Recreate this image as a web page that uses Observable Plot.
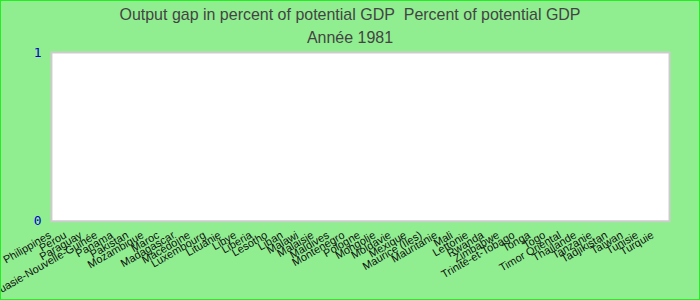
<!DOCTYPE html>
<html>
<head>
<meta charset="utf-8">
<script src="https://cdn.jsdelivr.net/npm/d3@7"></script>
<script src="https://cdn.jsdelivr.net/npm/@observablehq/plot@0.6"></script>
<style>
  html, body { margin: 0; padding: 0; }
  #wrap { position: relative; width: 700px; height: 300px; background: #90EE90; box-sizing: border-box; border: 1px solid #22ee22; overflow: hidden; }
  .ttl { position: absolute; left: 0; width: 100%; text-align: center; font-family: "Liberation Sans", Arial, sans-serif; color: #444; font-size: 17px; transform: scaleX(0.94); transform-origin: 50% 50%; }
  #t1 { top: 4px; }
  #t2 { top: 27px; }
  #chart { position: absolute; left: -1px; top: 43px; }
</style>
</head>
<body>
<div id="wrap">
  <div class="ttl" id="t1">Output gap in percent of potential GDP&nbsp; Percent of potential GDP</div>
  <div class="ttl" id="t2">Année 1981</div>
  <div id="chart"></div>
</div>
<script>
const categories = ["Philippines","Perou","Paraguay","Papouasie-Nouvelle-Guinée","Panama","Pakistan","Mozambique","Maroc","Madagascar","Macédoine","Luxembourg","Lituanie","Libye","Liberia","Lesotho","Liban","Malawi","Malaisie","Maldives","Montenegro","Pologne","Mongolie","Moldavie","Mexique","Maurice (Îles)","Mauritanie","Mali","Lettonie","Rwanda","Zimbabwe","Trinité-et-Tobago","Tonga","Togo","Timor Oriental","Thaïlande","Tanzanie","Tadjikistan","Taïwan","Tunisie","Turquie"];
const values = [0,0,0,0,0,0,0,0,0,0,0,0,0,0,0,0,0,0,0,0,0,0,0,0,0,0,0,0,0,0,0,0,0,0,0,0,0,0,0,0];
const yTicks = [0, 1];

const data = categories.map((c, i) => ({country: c, value: values[i]}));

const chart = Plot.plot({
  width: 700,
  height: 257,
  marginLeft: 51,
  marginRight: 30,
  marginTop: 8,
  marginBottom: 80,
  style: { background: "transparent", fontFamily: "Liberation Sans, Arial, sans-serif", fontSize: "11px", color: "black" },
  x: { type: "band", domain: categories, padding: 0, round: false, label: null },
  y: { domain: [0, 1], label: null },
  marks: [
    Plot.frame({ fill: "white", stroke: "#cccccc", strokeWidth: 2 }),
    Plot.barY(data, { x: "country", y: "value", fill: "#4572A7", inset: 3 }),
    Plot.axisX({ tickRotate: -30, tickSize: 0, tickPadding: 6, dx: -9, dy: 7, fontSize: 11, fill: "#111", label: null }),
    Plot.axisY({ ticks: yTicks, tickSize: 0, tickPadding: 10, fill: "#0000cc", fontSize: 13, fontFamily: "DejaVu Sans Mono, monospace", label: null, tickFormat: d3.format("d") })
  ]
});
document.getElementById("chart").appendChild(chart);
</script>
</body>
</html>
